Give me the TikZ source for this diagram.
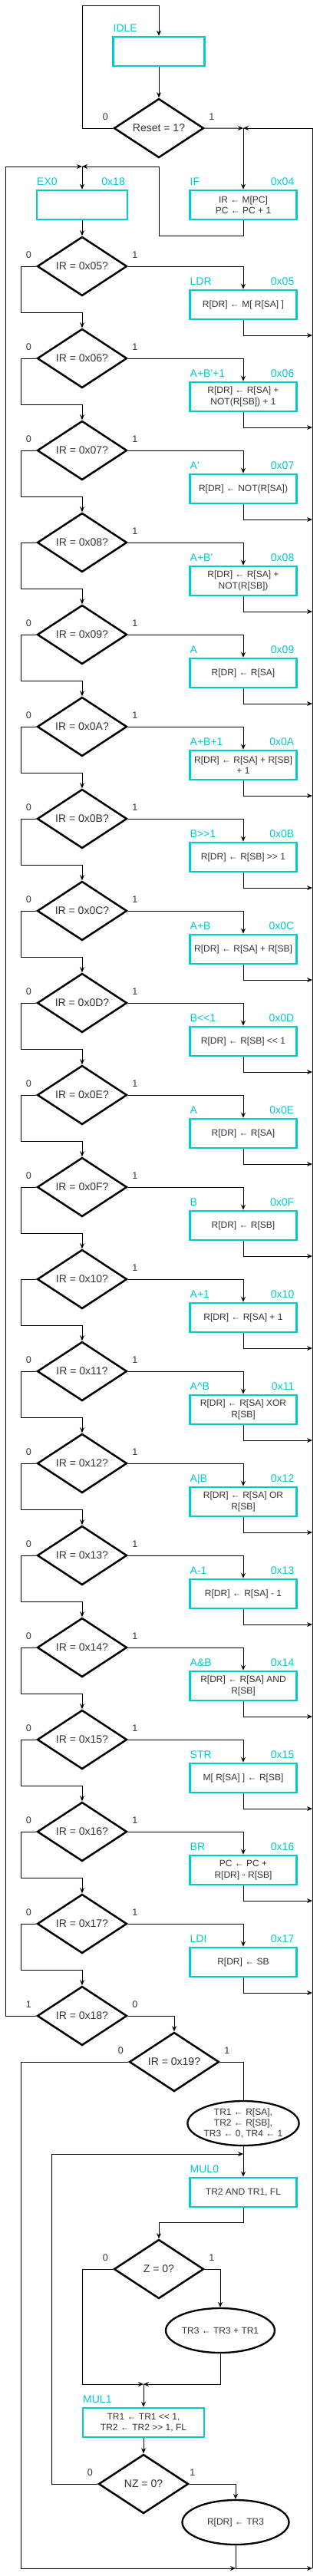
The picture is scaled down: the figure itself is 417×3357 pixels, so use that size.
\documentclass[tikz,border=0pt]{standalone}
\usepackage{fontspec}
\setmainfont{Liberation Sans}
\usetikzlibrary{shapes.geometric,arrows.meta,positioning}
\definecolor{stcyan}{HTML}{00CCCC}
\tikzset{
	>={Stealth[length=7pt,width=6pt]},
	state/.style={draw=stcyan, line width=2.6pt, minimum width=139pt, minimum height=38pt, inner sep=2pt, align=center, text=black!80, font=\fontsize{12}{14.5}\selectfont},
	test/.style={diamond, draw, line width=2.5pt, minimum width=117pt, minimum height=77pt, shape aspect=1.5, inner sep=0pt, text=black!80, font=\fontsize{14}{16}\selectfont},
	oval/.style={ellipse, draw, line width=2.3pt, minimum width=139pt, minimum height=58pt, inner sep=0pt, align=center, text=black!80, font=\fontsize{12}{14}\selectfont},
	tag/.style={inner sep=0pt, text=stcyan, font=\fontsize{14}{16}\selectfont},
	bit/.style={inner sep=0pt, text=black!80, font=\fontsize{12.5}{14}\selectfont},
}
\begin{document}
\begin{tikzpicture}[x=1pt, y=-1pt, line width=1pt]
		\useasboundingbox (0,0) rectangle (417,3357);
		% fetch part
		\node[state, minimum width=119pt] (idle) at (207,67) {};
		\node[tag, anchor=base west] (tidle) at ([shift={(1,-5)}]idle.north west) {IDLE};
		\node[test, below=40pt of idle] (reset) {Reset = 1?};
		\node[bit] (zreset) at ([shift={(-10,-15)}]reset.west) {0};
		\node[bit] (oreset) at ([shift={(9,-15)}]reset.east) {1};
		\node[state] (if) at (317,267) {IR ← M[PC]\\PC ← PC + 1};
		\node[tag, anchor=base west] (tif) at ([shift={(1,-5)}]if.north west) {IF};
		\node[tag, anchor=base east] (hif) at ([shift={(-4,-5)}]if.north east) {0x04};
		\node[state, minimum width=118pt] (ex0) at (107,267) {};
		\node[tag, anchor=base west] (tex0) at ([shift={(1,-5)}]ex0.north west) {EX0};
		\node[tag, anchor=base east] (hex0) at ([shift={(-4,-5)}]ex0.north east) {0x18};
		\coordinate (jif) at (317,167);
		\coordinate (jex) at (107,217);
		\coordinate (lb) at (7,217);
		\coordinate (bt) at (407,167);
		\coordinate (bb) at (407,3347);
		\draw[->] (idle) -- (reset);
		\draw[->] (reset.west) -| (107,7) -| (idle.north);
		\draw[->] (reset.east) -- (jif);
		\draw[->] (jif) -- (if.north);
		\draw[->] (bb) -- (bt) -- (jif);
		\draw[->] (if.south) -- ++(0,20) -| (207,217) -- (jex);
		\draw[->] (jex) -- (ex0.north);
		% decode chain
		\foreach \hx/\nm/\op [count=\k from 0, remember=\hx as \pv (initially 04)] in {
			05/LDR/{R[DR] ← M[ R[SA] ]},
			06/{A+B\textquotesingle+1}/{R[DR] ← R[SA] +\\NOT(R[SB]) + 1},
			07/{A\textquotesingle}/{R[DR] ← NOT(R[SA])},
			08/{A+B\textquotesingle}/{R[DR] ← R[SA] +\\NOT(R[SB])},
			09/A/{R[DR] ← R[SA]},
			0A/{A+B+1}/{R[DR] ← R[SA] + R[SB]\\+ 1},
			0B/{B>{}>1}/{R[DR] ← R[SB] >{}> 1},
			0C/{A+B}/{R[DR] ← R[SA] + R[SB]},
			0D/{B<{}<1}/{R[DR] ← R[SB] <{}< 1},
			0E/A/{R[DR] ← R[SA]},
			0F/B/{R[DR] ← R[SB]},
			10/{A+1}/{R[DR] ← R[SA] + 1},
			11/{A\textasciicircum B}/{R[DR] ← R[SA] XOR\\R[SB]},
			12/{A|B}/{R[DR] ← R[SA] OR\\R[SB]},
			13/{A-1}/{R[DR] ← R[SA] - 1},
			14/{A\&B}/{R[DR] ← R[SA] AND\\R[SB]},
			15/STR/{M[ R[SA] ] ← R[SB]},
			16/BR/{PC ← PC +\\R[DR] ◦ R[SB]},
			17/LDI/{R[DR] ← SB}}{
			\pgfmathsetmacro\yy{347+120*\k}
			\node[test] (d\hx) at (107,\yy) {IR = 0x\hx?};
			\node[state] (b\hx) at (317,\yy+50) {\op};
			\node[tag, anchor=base west] (t\hx) at ([shift={(1,-5)}]b\hx.north west) {\nm};
			\node[tag, anchor=base east] (h\hx) at ([shift={(-4,-5)}]b\hx.north east) {0x\hx};
			\node[bit] (o\hx) at ([shift={(9,-15)}]d\hx.east) {1};
			\coordinate (e\hx) at (407,\yy+90);
			\draw[->] (d\hx.east) -| (b\hx.north);
			\draw[->] (b\hx.south) |- (e\hx);
			\ifnum\k>0 \draw[->] (d\pv.west) -| (27,\yy-60) -| (d\hx.north); \fi
		}
		% 0 marks (none on 0x08 and 0x10)
		\foreach \hx in {05,06,07,09,0A,0B,0C,0D,0E,0F,11,12,13,14,15,16,17}
			\node[bit] (z\hx) at ([shift={(-10,-15)}]d\hx.west) {0};
		\draw[->] (ex0.south) -- (d05.north);
		% multiply
		\node[test] (d18) at (107,2627) {IR = 0x18?};
		\node[bit] (o18) at ([shift={(-10,-15)}]d18.west) {1};
		\node[bit] (z18) at ([shift={(9,-15)}]d18.east) {0};
		\node[test] (d19) at (227,2687) {IR = 0x19?};
		\node[bit] (z19) at ([shift={(-10,-15)}]d19.west) {0};
		\node[bit] (o19) at ([shift={(9,-15)}]d19.east) {1};
		\node[oval] (ld1) at (317,2767) {TR1 ← R[SA],\\TR2 ← R[SB],\\TR3 ← 0, TR4 ← 1};
		\node[state] (mul0) at (317,2857) {TR2 AND TR1, FL};
		\node[tag, anchor=base west] (tmul0) at ([shift={(1,-5)}]mul0.north west) {MUL0};
		\node[test] (z) at (207,2957) {Z = 0?};
		\node[bit] (zz) at ([shift={(-10,-15)}]z.west) {0};
		\node[bit] (oz) at ([shift={(9,-15)}]z.east) {1};
		\node[oval] (add) at (287,3037) {TR3 ← TR3 + TR1};
		\node[state, minimum width=158pt] (mul1) at (187,3157) {TR1 ← TR1 <{}< 1,\\TR2 ← TR2 >{}> 1, FL};
		\node[tag, anchor=base west] (tmul1) at ([shift={(1,-5)}]mul1.north west) {MUL1};
		\node[test] (nz) at (187,3237) {NZ = 0?};
		\node[bit] (znz) at ([shift={(-10,-15)}]nz.west) {0};
		\node[bit] (onz) at ([shift={(4,-15)}]nz.east) {1};
		\node[oval] (wb) at (307,3287) {R[DR] ← TR3};
		\coordinate (jm0) at (317,2807);
		\coordinate (jm1) at (187,3107);
		\coordinate (jw) at (307,3347);
		\draw[->] (d17.west) -| (27,2567) -| (d18.north);
		\draw[->] (d18.west) -| (lb) -- (jex);
		\draw[->] (d18.east) -| (d19.north);
		\draw (d19.east) -| (ld1.north);
		\draw[->] (ld1.south) -- (mul0.north);
		\draw[->] (mul0.south) -- ++(0,19) -| (z.north);
		\draw[->] (z.east) -| (add.north);
		\draw[->] (add.south) |- (jm1);
		\draw[->] (z.west) -| (107,3107) -- (jm1);
		\draw[->] (jm1) -- (mul1.north);
		\draw[->] (mul1.south) -- (nz.north);
		\draw[->] (nz.west) -| (67,2807) -- (jm0);
		\draw[->] (nz.east) -| (wb.north);
		\draw (wb.south) -- (jw);
		\draw[->] (d19.west) -| (27,3347) -- (jw);
		\draw[->] (jw) -- (bb);
	\end{tikzpicture}
\end{document}
